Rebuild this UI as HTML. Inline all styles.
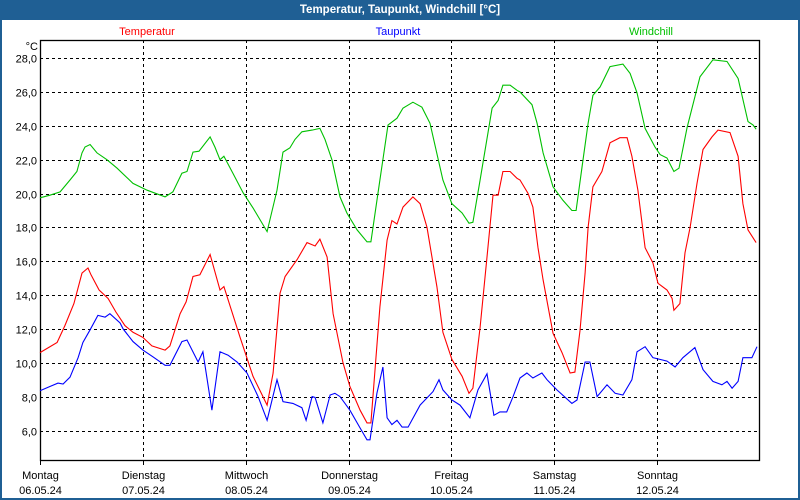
<!DOCTYPE html>
<html><head><meta charset="utf-8"><style>
html,body{margin:0;padding:0;background:#fff}
#wrap{position:relative;width:800px;height:500px;box-sizing:border-box;border:2px solid #1f5f94;border-top:none;overflow:hidden}
#title{position:absolute;left:-2px;top:0;width:800px;height:20px;background:#1f5f94;color:#fff;font:bold 11.5px "Liberation Sans",sans-serif;text-align:center;line-height:21px}
svg{position:absolute;left:-2px;top:0}
text{font-family:"Liberation Sans",sans-serif;font-size:11px}
</style></head><body>
<div id="wrap">
<div id="title">Temperatur, Taupunkt, Windchill [°C]</div>
<svg id="chart" width="800" height="500"></svg>
</div>
<script>
const yTicks=[6,8,10,12,14,16,18,20,22,24,26,28];
const dayNames=["Montag","Dienstag","Mittwoch","Donnerstag","Freitag","Samstag","Sonntag"];
const dayDates=["06.05.24","07.05.24","08.05.24","09.05.24","10.05.24","11.05.24","12.05.24"];
const seriesNames=["Temperatur","Taupunkt","Windchill"];
const tempHours=[0,4,5.8,7.9,9.8,11.2,11.9,13.8,15.9,17.7,19.8,21.7,24,26.1,29.2,30.3,32.7,34.1,35.7,37.3,39.7,42,42.9,46.7,49.7,53,54.4,56,57.2,60,62.3,64.2,65.3,67,68.4,70.7,72.3,74.7,76.3,77.2,79.3,81,82.1,83.3,84.7,87,88.7,90.3,92.6,94,96.1,98.5,100.1,101,102.7,104.3,105.7,106.9,108,109.7,111.3,112,113.9,115,116.2,117.4,119.7,121.8,123.7,124.8,126,127.2,127.9,129,131.1,133,135.3,137,138.1,139.5,141.2,143,144.2,146.3,147.5,147.9,149.3,150.5,151.7,153.3,154.7,156.8,158.2,161,162.9,164,165.2,167.1];
const tempValues=[10.6,11.2,12.2,13.5,15.3,15.6,15.2,14.3,13.8,13.0,12.2,11.8,11.5,11.0,10.75,11.0,12.9,13.6,15.1,15.2,16.4,14.3,14.5,11.5,9.2,7.5,9.4,14.1,15.1,16.1,17.1,16.9,17.3,16.25,12.9,10.0,8.6,7.2,6.45,6.45,13.3,17.25,18.4,18.2,19.2,19.8,19.4,18.0,14.5,11.8,10.2,9.2,8.2,8.5,12.1,16.25,19.9,19.9,21.3,21.3,20.9,20.8,20.0,19.2,16.8,14.9,11.75,10.6,9.4,9.45,11.9,15.3,18.0,20.4,21.3,23.0,23.3,23.3,22.2,20.2,16.8,15.9,14.7,14.3,13.8,13.1,13.5,16.5,18.0,20.6,22.6,23.35,23.75,23.6,22.2,19.4,17.85,17.1];
const dewHours=[0,2.3,4.2,5.4,7,8.9,10,11.7,13.5,15.2,16.3,18.7,19.4,21.7,24,26.4,29.2,30.3,33.1,34.3,36.9,38,40.1,42,43.9,46,48.3,50.9,53,55.3,56.7,59,61.1,62.1,63.5,64.2,66,67.7,68.8,70,72.3,74.7,76.3,77,78.6,80,81,82.1,83.3,84.5,85.9,88.7,91.7,93.1,94,96.1,98,100.3,102.2,104.3,105.9,107.3,108.9,110.4,112,113.6,115,117.1,118.3,120.6,124.1,125.3,127.2,128.3,130,132.3,134.2,136,138.1,139.3,141.2,143,146.3,148.2,150,152.8,154.7,157,159.1,160.3,161.5,162.9,164,166.1,167.3];
const dewValues=[8.35,8.6,8.8,8.75,9.15,10.3,11.2,11.95,12.8,12.7,12.9,12.35,12.0,11.25,10.75,10.35,9.85,9.85,11.25,11.35,10.05,10.65,7.2,10.65,10.45,10.05,9.4,8.0,6.6,9.0,7.7,7.6,7.35,6.6,8.0,7.95,6.45,8.1,8.2,8.0,7.2,6.15,5.45,5.45,8.2,9.75,6.75,6.35,6.6,6.2,6.2,7.5,8.3,9.0,8.4,7.8,7.5,6.75,8.4,9.35,6.9,7.1,7.1,8.0,9.1,9.4,9.1,9.4,9.0,8.4,7.6,7.8,10.05,10.05,8.0,8.7,8.2,8.1,9.0,10.65,10.95,10.3,10.1,9.75,10.3,10.9,9.6,8.9,8.7,8.9,8.5,8.9,10.3,10.3,10.95];
const windHours=[0,2.3,4.7,7,8.6,9.8,10.5,11.7,13.3,15.6,18,21.7,25,29.2,31,33.1,34.3,35.7,37.1,39.7,40.8,42,42.9,45,47.4,49.7,53,55.3,56.7,58.3,59.5,61.1,63.5,65.3,66.5,68.1,70,71.6,74,76.3,77.2,79.3,81.2,83.3,84.7,87,89.1,91,94,96.1,98.5,100.1,101,102.7,105.5,106.9,108,109.7,111.3,112,114.8,116,117.4,119.7,122,124.1,125.1,126.5,127.9,129,130.7,133,136,137.7,139.3,141.2,143.5,144.7,146.3,147.9,149.1,151,154,157,160.3,162.9,165.2,166.4,167.1];
const windValues=[19.75,19.9,20.1,20.8,21.3,22.4,22.75,22.9,22.4,22.0,21.5,20.6,20.2,19.8,20.1,21.2,21.3,22.45,22.5,23.35,22.75,22.0,22.2,21.2,20.05,19.15,17.75,20.2,22.45,22.7,23.2,23.65,23.75,23.85,23.2,22.0,19.8,18.85,17.85,17.15,17.15,20.8,24.05,24.45,25.05,25.4,25.1,24.15,20.8,19.4,18.85,18.25,18.3,20.8,25.05,25.5,26.4,26.4,26.1,26.0,25.25,24.15,22.4,20.4,19.6,19.0,19.0,21.6,24.15,25.8,26.3,27.5,27.65,27.1,25.95,23.85,22.75,22.3,22.1,21.3,21.5,23.9,26.9,27.9,27.8,26.8,24.25,24.05,23.8];

const NS="http://www.w3.org/2000/svg";
const svg=document.getElementById('chart');
const L=40,R=760,T=40,B=460;
const xS=h=>L+h/168*(R-L);
const yS=v=>430.5-(v-6)*(33.85/2);
function mk(tag,attrs,parent){const e=document.createElementNS(NS,tag);for(const k in attrs)e.setAttribute(k,attrs[k]);(parent||svg).appendChild(e);return e;}

yTicks.forEach(v=>{
  const y=Math.round(yS(v))+0.5;
  const g=mk('line',{x1:L,x2:R,y1:y,y2:y,stroke:'#000','stroke-dasharray':'3,3','stroke-width':1});
  
  
  const t=mk('text',{x:L-3,y:y+4,'text-anchor':'end',fill:'#000'});
  t.textContent=v.toFixed(1).replace('.',',');
  
  
});
dayNames.forEach((d,i)=>{
  const x=Math.round(xS(i*24))+0.5;
  if(i>0){
    const g=mk('line',{x1:x,x2:x,y1:T,y2:B,stroke:'#000','stroke-dasharray':'3,3'});
    
    
  }
  const tk=mk('line',{x1:x,x2:x,y1:B,y2:B+5,stroke:'#000'});
  
  
  const t1=mk('text',{x:x,y:479,'text-anchor':'middle',fill:'#000'});
  t1.textContent=d;
  
  
  const t2=mk('text',{x:x,y:494,'text-anchor':'middle',fill:'#000'});
  t2.textContent=dayDates[i];
  
  
});
const fr=mk('rect',{x:L+0.5,y:T+0.5,width:R-L-1,height:B-T,fill:'none',stroke:'#000','stroke-width':1.3});


const unit=mk('text',{x:L-2,y:50,'text-anchor':'end',fill:'#000'});
unit.textContent='°C';


const legendX=[147,398,651],colors=['#ff0000','#0000ff','#00c000'];
seriesNames.forEach((n,i)=>{
  const t=mk('text',{x:legendX[i],y:35,'text-anchor':'middle',fill:colors[i]});
  t.textContent=n;
  
  
});
function line(hours,vals,color,name){
  const d=hours.map((h,i)=>(i?'L':'M')+xS(h).toFixed(1)+','+yS(vals[i]).toFixed(1)).join('');
  const p=mk('path',{d:d,fill:'none',stroke:color,'stroke-width':1.1,'stroke-linejoin':'miter'});
  
  
}
line(windHours,windValues,'#00c000','windchill-line');
line(tempHours,tempValues,'#ff0000','temperature-line');
line(dewHours,dewValues,'#0000ff','dewpoint-line');
</script>
</body></html>
